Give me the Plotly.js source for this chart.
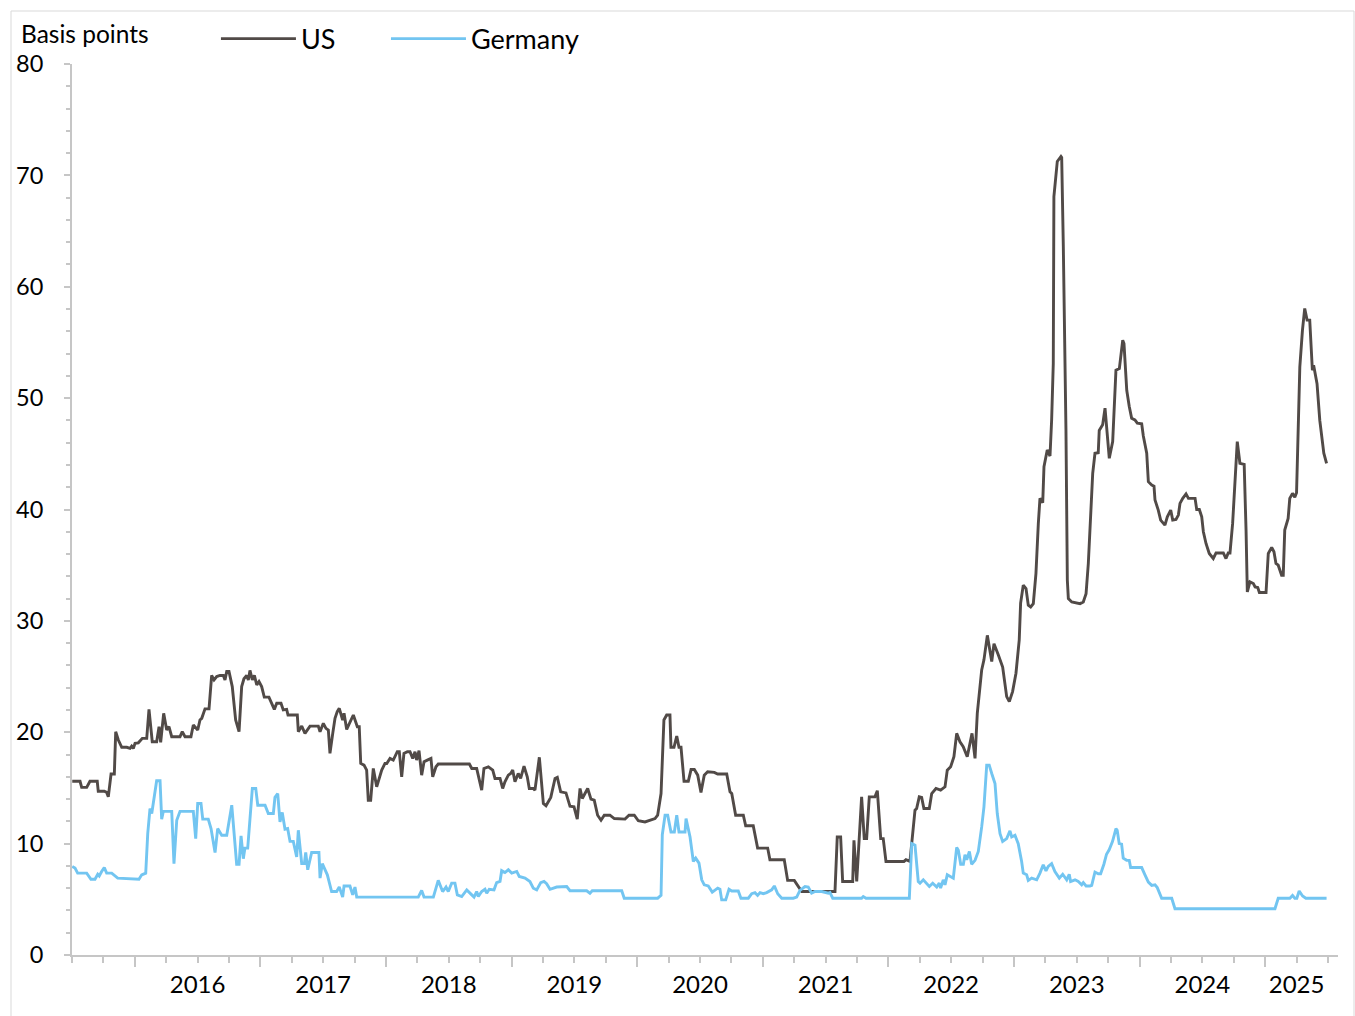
<!DOCTYPE html>
<html>
<head>
<meta charset="utf-8">
<script src="https://cdn.plot.ly/plotly-3.0.1.min.js"></script>
<style>
html,body{margin:0;padding:0;background:#ffffff;}
#chart{width:1355px;height:1016px;}
</style>
</head>
<body>
<div id="chart"></div>
<script>
// Dates as decimal years
const usDates = [2015.502,2015.564,2015.577,2015.617,2015.643,2015.701,2015.709,2015.757,2015.776,2015.789,
2015.811,2015.837,2015.848,2015.869,2015.896,2015.936,2015.962,2015.975,2015.988,2016.002,
2016.028,2016.06,2016.095,2016.113,2016.139,2016.174,2016.193,2016.206,2016.23,2016.254,
2016.272,2016.294,2016.36,2016.378,2016.4,2016.447,2016.466,2016.501,2016.519,2016.533,
2016.559,2016.591,2016.612,2016.631,2016.652,2016.678,2016.705,2016.718,2016.732,2016.75,
2016.776,2016.803,2016.83,2016.851,2016.869,2016.891,2016.904,2016.917,2016.936,2016.952,
2016.971,2016.989,2017.01,2017.031,2017.068,2017.076,2017.09,2017.111,2017.13,2017.164,
2017.182,2017.209,2017.22,2017.294,2017.302,2017.329,2017.355,2017.395,2017.461,2017.475,
2017.501,2017.522,2017.541,2017.554,2017.576,2017.594,2017.612,2017.628,2017.655,2017.666,
2017.687,2017.713,2017.74,2017.772,2017.787,2017.799,2017.825,2017.846,2017.859,2017.878,
2017.899,2017.926,2017.947,2017.966,2017.992,2018.006,2018.032,2018.058,2018.09,2018.106,
2018.125,2018.143,2018.17,2018.191,2018.213,2018.231,2018.244,2018.263,2018.284,2018.303,
2018.329,2018.358,2018.372,2018.398,2018.416,2018.664,
2018.683,2018.722,2018.762,2018.78,2018.815,2018.85,2018.868,2018.908,2018.929,2018.947,
2018.974,2018.993,2019.009,2019.027,2019.053,2019.072,2019.099,2019.125,2019.141,2019.173,
2019.186,2019.221,2019.253,2019.274,2019.312,2019.346,2019.364,2019.391,2019.433,2019.465,
2019.497,2019.523,2019.545,2019.563,2019.606,2019.632,2019.658,2019.685,2019.712,2019.738,
2019.783,2019.818,2019.903,2019.935,2019.977,2020.009,2020.062,2020.102,2020.142,2020.163,
2020.19,2020.213,2020.235,2020.261,2020.269,2020.293,2020.315,2020.333,2020.349,2020.373,
2020.407,2020.429,2020.455,2020.482,2020.508,2020.534,2020.561,2020.614,2020.641,2020.713,
2020.739,2020.753,2020.784,2020.845,2020.864,2020.924,2020.959,2021.039,2021.057,2021.171,
2021.198,2021.251,2021.278,2021.31,2021.575,
2021.593,2021.62,2021.636,2021.716,2021.726,2021.748,2021.787,2021.808,2021.827,2021.848,
2021.893,2021.912,2021.939,2021.959,2021.981,2022.124,2022.14,2022.172,
2022.212,2022.225,2022.246,2022.265,2022.283,2022.326,2022.345,2022.379,2022.416,2022.451,
2022.469,2022.496,2022.522,2022.544,2022.57,2022.596,2022.628,2022.666,2022.69,2022.708,
2022.743,2022.761,2022.788,2022.823,2022.841,2022.875,2022.91,2022.942,2022.963,2022.989,
2023.016,2023.042,
2023.053,2023.074,2023.096,2023.114,2023.133,2023.154,2023.175,2023.194,2023.207,2023.229,
2023.239,2023.265,2023.287,2023.3,2023.313,2023.318,2023.345,2023.374,2023.38,2023.393,
2023.414,2023.425,2023.433,2023.46,2023.5,2023.526,2023.552,2023.574,2023.592,2023.611,
2023.627,2023.645,2023.671,2023.679,2023.706,2023.725,2023.743,2023.759,2023.786,2023.812,
2023.839,2023.85,2023.866,2023.876,2023.898,2023.918,2023.937,2023.963,2023.982,2024.017,
2024.03,2024.057,2024.07,2024.097,2024.115,2024.123,2024.149,2024.168,2024.202,2024.221,
2024.248,2024.264,2024.29,2024.309,2024.322,2024.344,2024.37,2024.389,2024.442,2024.455,
2024.476,2024.495,2024.508,2024.529,2024.555,2024.587,2024.609,2024.667,2024.688,2024.706,
2024.72,2024.741,2024.759,2024.778,2024.799,2024.833,2024.848,2024.858,2024.879,2024.906,
2024.92,2024.941,2024.954,2025.007,2025.025,2025.052,2025.07,2025.086,2025.104,2025.131,
2025.144,2025.156,2025.183,2025.196,2025.218,2025.236,2025.25,2025.262,2025.276,2025.297,
2025.315,2025.334,2025.355,2025.376,2025.386,2025.413,2025.435,2025.467,2025.489];

const usValues = [15.6,15.6,15.05,15.05,15.6,15.6,14.7,14.7,14.6,14.2,
16.25,16.25,20.05,19.3,18.65,18.65,18.55,18.75,18.55,19.0,
19.05,19.45,19.45,22.05,19.15,19.15,20.5,19.1,21.7,20.2,
20.5,19.6,19.6,20.05,19.6,19.6,20.65,20.2,21.1,21.25,
22.1,22.1,25.1,24.7,25.0,25.1,25.1,24.7,25.45,25.45,
24.1,21.1,20.05,24.1,24.8,25.1,24.7,25.55,24.7,25.1,
24.25,24.55,24.1,23.15,23.15,22.95,22.65,22.05,22.6,22.6,
22.0,22.05,21.55,21.55,20.05,20.55,19.9,20.55,20.55,20.05,
20.8,20.35,20.2,18.1,19.9,21.25,21.85,22.15,21.1,21.7,
20.25,20.95,21.55,20.5,20.5,17.2,17.05,16.6,13.9,13.9,
16.75,15.1,15.85,16.6,17.2,17.2,17.65,17.5,18.25,18.25,
16.0,18.1,18.25,18.25,17.65,18.25,17.5,18.35,16.15,17.35,
17.5,17.65,16.0,16.9,17.15,17.15,
16.75,16.75,14.8,16.75,16.9,16.6,15.85,15.85,14.95,15.55,
16.15,16.3,16.6,15.55,16.3,15.85,16.95,16.0,14.95,14.95,
14.8,17.75,13.6,13.4,14.15,15.85,15.95,14.65,14.55,13.35,
13.3,12.2,14.95,14.05,14.95,14.0,13.9,12.55,12.1,12.55,
12.55,12.25,12.2,12.55,12.55,12.05,11.95,12.1,12.25,12.55,
14.5,21.1,21.55,21.55,18.65,18.65,19.65,18.65,18.65,15.6,
15.6,16.65,16.65,16.15,14.6,16.15,16.45,16.4,16.25,16.25,
14.65,14.5,12.55,12.55,11.6,11.6,9.6,9.6,8.55,8.55,
6.7,6.7,6.2,5.7,5.7,
10.6,10.6,6.6,6.6,10.3,6.6,14.2,10.45,10.45,14.2,
14.2,14.75,10.45,10.45,8.4,8.4,8.55,8.4,
13.0,13.15,14.2,14.15,13.15,13.15,14.5,14.95,14.8,15.1,
16.6,16.9,17.8,19.9,19.15,18.7,17.8,19.9,17.65,21.7,
25.6,26.5,28.7,26.35,27.95,26.95,25.85,23.2,22.75,23.65,
25.3,28.3,
31.6,33.2,32.9,31.4,31.25,31.55,34.25,38.75,41.0,40.6,
43.85,45.35,44.8,48.05,53.1,68.1,71.25,71.7,71.6,63.6,
47.15,33.65,32.0,31.7,31.65,31.55,31.7,32.45,35.15,39.65,
43.25,45.05,45.1,47.1,47.6,49.1,46.55,44.6,46.1,52.5,
52.65,53.7,55.2,54.9,50.7,49.25,48.2,48.05,47.75,47.7,
46.6,45.05,42.5,42.2,42.1,40.85,39.95,39.05,38.6,39.35,
39.95,39.05,39.1,39.5,40.55,41.0,41.4,41.0,41.0,40.0,
40.0,39.35,38.0,36.95,36.05,35.6,36.1,36.1,35.6,36.1,
36.1,38.75,42.65,46.1,44.15,44.05,38.1,32.6,33.5,33.35,
33.05,33.0,32.55,32.55,36.05,36.6,36.2,35.15,35.0,34.1,
34.1,38.15,39.2,41.0,41.45,41.1,41.5,47.1,52.8,56.1,
58.05,57.0,57.0,52.5,52.95,51.3,48.0,45.05,44.15];

const deDates = [2015.502,2015.524,2015.545,2015.617,2015.651,2015.683,2015.705,2015.717,2015.736,2015.757,
2015.776,2015.816,2015.864,2016.033,2016.055,2016.087,2016.103,2016.121,2016.135,2016.153,
2016.174,2016.201,2016.214,2016.227,2016.294,2016.312,2016.334,2016.36,2016.466,2016.485,
2016.501,2016.527,2016.541,2016.585,2016.607,2016.639,2016.66,2016.692,2016.732,2016.772,
2016.798,2016.811,2016.83,2016.846,2016.864,2016.877,2016.899,2016.936,2016.963,2016.979,
2017.037,2017.063,2017.103,2017.116,2017.138,2017.156,2017.174,2017.196,2017.217,2017.236,
2017.262,2017.289,2017.302,2017.329,2017.35,2017.361,2017.377,2017.408,2017.466,2017.475,
2017.493,2017.514,2017.533,2017.567,2017.607,2017.628,2017.655,2017.666,2017.713,2017.735,
2017.753,2017.767,2018.257,2018.284,2018.303,2018.377,2018.416,2018.451,2018.478,2018.496,
2018.523,2018.549,2018.568,2018.603,2018.643,2018.683,2018.701,2018.722,2018.735,2018.762,
2018.788,2018.802,2018.822,2018.86,2018.881,2018.908,2018.921,2018.947,2018.974,2019.001,
2019.041,2019.061,2019.107,2019.146,2019.173,2019.2,2019.232,2019.258,2019.279,2019.306,
2019.359,2019.439,2019.465,2019.598,2019.624,2019.642,2019.877,2019.897,2020.163,2020.19,
2020.2,2020.222,2020.243,2020.269,2020.296,2020.315,2020.333,2020.381,2020.389,2020.421,
2020.447,2020.466,2020.492,2020.514,2020.534,2020.566,2020.58,2020.598,2020.641,2020.659,
2020.673,2020.705,2020.731,2020.753,2020.805,2020.826,2020.885,2020.912,2020.938,2020.959,
2020.978,2021.004,2021.031,2021.071,2021.092,2021.119,2021.151,2021.243,2021.27,2021.296,
2021.336,2021.362,2021.389,2021.416,2021.469,2021.522,2021.535,2021.557,2021.787,2021.8,
2021.822,2022.167,2022.186,2022.212,2022.238,2022.252,2022.278,2022.326,2022.353,2022.385,
2022.405,2022.416,2022.437,2022.451,2022.469,2022.517,2022.544,2022.557,2022.576,2022.597,
2022.61,2022.624,2022.645,2022.663,2022.69,2022.716,2022.743,2022.761,2022.783,2022.803,
2022.823,2022.849,2022.867,2022.889,2022.91,2022.942,2022.968,2022.982,2023.008,2023.034,
2023.061,2023.074,2023.101,2023.114,2023.141,2023.181,2023.207,2023.233,2023.255,2023.273,
2023.3,2023.326,2023.361,2023.388,2023.42,2023.44,2023.451,2023.486,2023.512,2023.539,
2023.552,2023.574,2023.605,2023.619,2023.645,2023.671,2023.69,2023.716,2023.737,2023.758,
2023.785,2023.812,2023.822,2023.838,2023.857,2023.87,2023.897,2023.918,2023.929,2024.017,
2024.043,2024.07,2024.097,2024.123,2024.141,2024.176,2024.256,2024.282,2025.078,2025.104,
2025.197,2025.218,2025.236,2025.252,2025.271,2025.298,2025.324,2025.489];

const deValues = [7.95,7.8,7.35,7.35,6.8,6.8,7.25,7.1,7.5,7.85,
7.35,7.35,6.9,6.8,7.2,7.35,10.9,13.15,12.7,14.2,
15.65,15.65,12.2,12.9,12.9,8.2,12.1,12.9,12.9,10.45,
13.6,13.6,12.2,12.2,11.35,9.2,11.35,10.75,10.75,13.45,
9.7,8.15,8.15,10.7,8.65,9.6,9.6,14.95,14.95,13.45,
13.45,12.7,12.7,14.15,14.5,11.95,12.8,11.3,11.35,10.2,
10.2,8.8,11.2,8.2,8.2,9.2,7.65,9.2,9.2,6.9,
8.2,7.6,7.2,5.7,5.7,6.1,5.2,6.2,6.2,5.4,
6.1,5.2,5.2,5.8,5.2,5.2,6.7,5.7,6.1,5.7,
6.45,6.45,5.4,5.25,5.85,5.4,5.2,5.7,5.25,5.7,
5.9,5.55,5.9,5.85,6.5,6.6,7.57,7.4,7.65,7.35,
7.5,7.05,6.9,6.6,6.0,5.85,6.5,6.6,6.4,5.9,
6.1,6.15,5.77,5.77,5.55,5.77,5.77,5.1,5.1,5.35,
10.8,12.55,12.55,11.05,11.05,12.55,11.05,11.05,12.25,10.6,
8.4,8.7,8.25,6.75,6.3,6.2,5.9,5.65,6.0,5.9,
4.95,4.95,5.9,5.75,5.75,5.1,5.1,5.5,5.6,5.35,
5.6,5.5,5.6,5.85,6.2,5.5,5.1,5.1,5.2,5.8,
6.15,6.1,5.55,5.7,5.7,5.55,5.6,5.1,5.1,5.25,
5.1,5.1,10.0,9.85,6.6,6.45,6.75,6.15,6.45,6.1,
6.45,6.0,6.75,6.3,7.2,6.9,9.65,9.4,8.15,8.15,
9.0,8.55,9.3,8.15,8.5,9.3,11.5,13.3,17.05,17.05,
16.3,15.4,12.7,10.9,10.2,10.45,11.15,10.6,10.75,10.0,
8.4,7.35,7.2,6.7,6.9,6.75,7.35,8.1,7.55,7.95,
8.2,7.5,6.9,7.25,6.75,7.25,6.6,6.75,6.6,6.3,
6.5,6.2,6.2,6.25,7.45,7.3,7.3,8.15,9.05,9.45,
10.2,11.35,11.2,10.0,9.95,8.7,8.5,8.5,7.85,7.85,
7.2,6.55,6.25,6.3,6.05,5.1,5.1,4.15,4.15,5.1,
5.1,5.35,5.1,5.1,5.75,5.3,5.1,5.1];

const yearLabels = ['2016','2017','2018','2019','2020','2021','2022','2023','2024','2025'];
const yearLabelPositions = [2016.5,2017.5,2018.5,2019.5,2020.5,2021.5,2022.5,2023.5,2024.5,2025.25];
const seriesNames = ['US','Germany'];

const axisGray = '#c6c6c6';
const xRange = [2015.5, 2025.58];

const traces = [
  {x: usDates, y: usValues, type: 'scatter', mode: 'lines', name: seriesNames[0],
   line: {color: '#514a47', width: 2.9}, xaxis: 'x', yaxis: 'y', hoverinfo: 'skip', legend: 'legend'},
  {x: deDates, y: deValues, type: 'scatter', mode: 'lines', name: seriesNames[1],
   line: {color: '#72c5f1', width: 2.9}, xaxis: 'x2', yaxis: 'y', hoverinfo: 'skip', legend: 'legend2'}
];

const legendFont = {family: 'Lato, sans-serif', size: 27, color: '#000000'};

const layout = {
  width: 1355, height: 1016,
  margin: {l: 72, r: 17, t: 64, b: 61},
  paper_bgcolor: '#ffffff', plot_bgcolor: '#ffffff',
  font: {family: 'Lato, sans-serif', color: '#000000', size: 24},
  title: {text: 'Basis points', x: 21/1355, xanchor: 'left', y: 1 - 34/1016, yanchor: 'middle',
          font: {family: 'Lato, sans-serif', size: 24.5, color: '#000000'}},
  showlegend: true,
  legend: {orientation: 'h', x: 0.1137, xanchor: 'left', y: 1.028, yanchor: 'middle',
           font: legendFont, bgcolor: 'rgba(0,0,0,0)', itemwidth: 75},
  legend2: {orientation: 'h', x: 0.248, xanchor: 'left', y: 1.028, yanchor: 'middle',
           font: legendFont, bgcolor: 'rgba(0,0,0,0)', itemwidth: 75},
  xaxis: {type: 'linear', range: xRange, showgrid: false, zeroline: false,
          showline: true, linecolor: axisGray, linewidth: 2,
          tickmode: 'linear', tick0: 2016, dtick: 1, ticks: 'outside', ticklen: 10,
          tickcolor: axisGray, tickwidth: 1.5, showticklabels: false,
          minor: {tickmode: 'linear', tick0: 2015.5, dtick: 0.25, ticks: 'outside', ticklen: 6,
                  tickcolor: axisGray, tickwidth: 1.5, showgrid: false}},
  xaxis2: {type: 'linear', range: xRange, overlaying: 'x', anchor: 'y', side: 'bottom',
           showgrid: false, zeroline: false, showline: false, ticks: '',
           tickmode: 'array', tickvals: yearLabelPositions, ticktext: yearLabels,
           tickfont: {family: 'Lato, sans-serif', size: 24, color: '#000000'},
           ticklabelstandoff: 13},
  yaxis: {range: [0, 80], tickmode: 'linear', tick0: 0, dtick: 10, showgrid: false, zeroline: false,
          showline: true, linecolor: axisGray, linewidth: 2,
          ticks: 'outside', ticklen: 6, tickcolor: axisGray, tickwidth: 1.5,
          tickfont: {family: 'Lato, sans-serif', size: 23.5, color: '#000000'},
          ticklabelstandoff: 16,
          minor: {tickmode: 'linear', tick0: 0, dtick: 2, ticks: 'outside', ticklen: 4,
                  tickcolor: axisGray, tickwidth: 1.5, showgrid: false}},
  shapes: [{type: 'rect', xref: 'paper', yref: 'paper',
            x0: (11-72)/1266, x1: (1354-72)/1266, y0: (955-1030)/891, y1: (955-11)/891,
            line: {color: '#d9d9d9', width: 1}, fillcolor: 'rgba(0,0,0,0)', layer: 'below'}]
};

Plotly.newPlot('chart', traces, layout, {displayModeBar: false, responsive: false});
</script>
</body>
</html>
